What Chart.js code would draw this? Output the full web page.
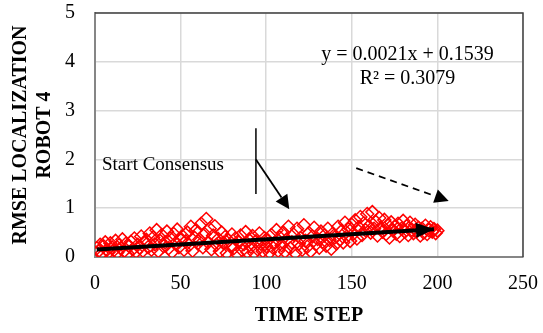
<!DOCTYPE html>
<html>
<head>
<meta charset="UTF-8">
<title>RMSE Localization Robot 4</title>
<script src="https://cdn.jsdelivr.net/npm/chart.js"></script>
<style>
    html, body { margin: 0; padding: 0; background: #fff; }
    #wrap { width: 543px; height: 333px; }
</style>
</head>
<body>
<div id="wrap"><canvas id="rmseChart" width="543" height="333"></canvas></div>
<script>
// RMSE de localisation du robot 4, un point par pas de temps (1..200)
var rmse = [
    0.18, 0.12, 0.25, 0.08, 0.22, 0.30, 0.15, 0.10, 0.28, 0.20,
    0.14, 0.33, 0.09, 0.24, 0.18, 0.36, 0.12, 0.27, 0.07, 0.22,
    0.31, 0.16, 0.38, 0.11, 0.25, 0.19, 0.42, 0.13, 0.29, 0.35,
    0.20, 0.48, 0.15, 0.40, 0.26, 0.55, 0.12, 0.33, 0.45, 0.22,
    0.30, 0.52, 0.18, 0.38, 0.10, 0.47, 0.28, 0.56, 0.20, 0.35,
    0.43, 0.15, 0.32, 0.50, 0.24, 0.62, 0.13, 0.40, 0.55, 0.28,
    0.36, 0.68, 0.20, 0.47, 0.78, 0.30, 0.58, 0.16, 0.44, 0.63,
    0.25, 0.37, 0.12, 0.50, 0.29, 0.41, 0.08, 0.34, 0.22, 0.46,
    0.18, 0.38, 0.06, 0.30, 0.44, 0.14, 0.26, 0.51, 0.10, 0.35,
    0.21, 0.43, 0.08, 0.32, 0.16, 0.48, 0.27, 0.12, 0.39, 0.22,
    0.34, 0.09, 0.45, 0.19, 0.29, 0.55, 0.13, 0.40, 0.24, 0.50,
    0.11, 0.36, 0.62, 0.18, 0.30, 0.46, 0.08, 0.58, 0.27, 0.39,
    0.15, 0.65, 0.33, 0.21, 0.49, 0.12, 0.42, 0.60, 0.26, 0.37,
    0.19, 0.52, 0.31, 0.44, 0.23, 0.58, 0.35, 0.17, 0.48, 0.40,
    0.28, 0.62, 0.36, 0.53, 0.30, 0.70, 0.42, 0.57, 0.33, 0.66,
    0.48, 0.75, 0.38, 0.61, 0.82, 0.45, 0.69, 0.55, 0.88, 0.63,
    0.50, 0.92, 0.58, 0.72, 0.44, 0.80, 0.60, 0.52, 0.76, 0.47,
    0.65, 0.40, 0.71, 0.55, 0.62, 0.48, 0.68, 0.43, 0.58, 0.74,
    0.52, 0.63, 0.45, 0.70, 0.56, 0.49, 0.66, 0.53, 0.60, 0.44,
    0.58, 0.50, 0.64, 0.47, 0.55, 0.61, 0.52, 0.57, 0.49, 0.54
];

// Courbe de tendance linéaire (Excel)
var trendSlope = 0.0021;
var trendIntercept = 0.1539;
var trendR2 = 0.3079;
var trendRange = [1, 198];

var xTicks = [0, 50, 100, 150, 200, 250];
var yTicks = [0, 1, 2, 3, 4, 5];
var xTitle = 'TIME STEP';
var yTitle = ['RMSE LOCALIZATION', 'ROBOT 4'];

var serif = "'Liberation Serif', 'Times New Roman', serif";

var points = rmse.map(function (v, i) { return { x: i + 1, y: v }; });
var trendPoints = trendRange.map(function (x) { return { x: x, y: trendSlope * x + trendIntercept }; });

function arrow(ctx, x1, y1, x2, y2, width, headLen, headW, dash) {
    var ang = Math.atan2(y2 - y1, x2 - x1);
    var bx = x2 - headLen * Math.cos(ang);
    var by = y2 - headLen * Math.sin(ang);
    ctx.save();
    ctx.strokeStyle = '#000';
    ctx.fillStyle = '#000';
    ctx.lineWidth = width;
    ctx.setLineDash(dash || []);
    ctx.beginPath();
    ctx.moveTo(x1, y1);
    ctx.lineTo(bx, by);
    ctx.stroke();
    ctx.setLineDash([]);
    ctx.beginPath();
    ctx.moveTo(x2, y2);
    ctx.lineTo(bx + headW * Math.sin(ang), by - headW * Math.cos(ang));
    ctx.lineTo(bx - headW * Math.sin(ang), by + headW * Math.cos(ang));
    ctx.closePath();
    ctx.fill();
    ctx.restore();
}

// Cadre, titres d'axes, flèches et textes
var annotations = {
    id: 'annotations',
    afterDatasetsDraw: function (chart) {
        var ctx = chart.ctx;
        var xs = chart.scales.x, ys = chart.scales.y;
        var px = function (v) { return xs.getPixelForValue(v); };
        var py = function (v) { return ys.getPixelForValue(v); };
        var a = chart.chartArea;

        // pointe de la tendance
        var t1 = trendPoints[1];
        arrow(ctx, px(t1.x - 8), py(trendSlope * (t1.x - 8) + trendIntercept), px(t1.x), py(t1.y), 4, 18, 7.5);

        ctx.save();
        ctx.strokeStyle = '#404040';
        ctx.lineWidth = 1.5;
        ctx.beginPath();
        ctx.moveTo(a.left, a.top);
        ctx.lineTo(a.right, a.top);
        ctx.lineTo(a.right, a.bottom);
        ctx.stroke();

        // début du consensus
        ctx.strokeStyle = '#000';
        ctx.lineWidth = 1.5;
        ctx.beginPath();
        ctx.moveTo(px(94), py(2.64));
        ctx.lineTo(px(94), py(1.29));
        ctx.stroke();
        ctx.restore();
        arrow(ctx, px(94), py(2.0), px(113.5), py(0.98), 1.8, 14, 7);
        arrow(ctx, px(152.6), py(1.82), px(206.6), py(1.15), 1.8, 14, 7, [7, 5]);

        ctx.save();
        ctx.fillStyle = '#000';
        ctx.font = '19px ' + serif;
        ctx.textAlign = 'left';
        ctx.textBaseline = 'middle';
        ctx.fillText('Start Consensus', px(4.1), py(1.88));
        ctx.font = '20px ' + serif;
        ctx.textAlign = 'center';
        ctx.fillText('y = ' + trendSlope.toFixed(4) + 'x + ' + trendIntercept.toFixed(4), px(182.5), py(4.14));
        ctx.fillText('R\u00B2 = ' + trendR2.toFixed(4), px(182.5), py(3.65));

        // titres des axes
        ctx.font = 'bold 20px ' + serif;
        ctx.fillText(xTitle, (a.left + a.right) / 2, 316);
        ctx.translate(0, (a.top + a.bottom) / 2);
        ctx.rotate(-Math.PI / 2);
        ctx.fillText(yTitle[0], 0, 21);
        ctx.fillText(yTitle[1], 0, 45);
        ctx.restore();
    }
};

var chart = new Chart(document.getElementById('rmseChart'), {
    type: 'scatter',
    data: {
        datasets: [{
            label: 'RMSE',
            data: points,
            pointStyle: 'rectRot',
            pointRadius: 6.5,
            pointBorderWidth: 1.5,
            borderColor: '#ff0000',
            backgroundColor: 'rgba(255,255,255,0)',
            order: 2
        }, {
            type: 'line',
            label: 'Linear',
            data: trendPoints,
            borderColor: '#000',
            borderWidth: 4,
            pointRadius: 0,
            fill: false,
            order: 1
        }]
    },
    options: {
        responsive: false,
        animation: false,
        layout: { padding: { top: 13, right: 20, left: 0, bottom: 0 } },
        plugins: {
            legend: { display: false },
            tooltip: { enabled: false }
        },
        scales: {
            x: {
                type: 'linear',
                min: 0,
                max: 250,
                afterBuildTicks: function (s) { s.ticks = xTicks.map(function (v) { return { value: v }; }); },
                afterFit: function (s) { s.height = 76; s.paddingLeft = 0; s.paddingRight = 0; },
                grid: { color: '#d9d9d9', lineWidth: 1.5, drawTicks: false },
                border: { color: '#868686', width: 2 },
                ticks: { color: '#000', padding: 15, font: { family: serif, size: 20 } }
            },
            y: {
                min: 0,
                max: 5,
                afterBuildTicks: function (s) { s.ticks = yTicks.map(function (v) { return { value: v }; }); },
                afterFit: function (s) { s.width = 95; s.paddingTop = 0; s.paddingBottom = 0; },
                grid: { color: '#d9d9d9', lineWidth: 1.5, drawTicks: false },
                border: { color: '#868686', width: 2 },
                ticks: { color: '#000', padding: 20, font: { family: serif, size: 20 } }
            }
        }
    },
    plugins: [annotations]
});
</script>
</body>
</html>
